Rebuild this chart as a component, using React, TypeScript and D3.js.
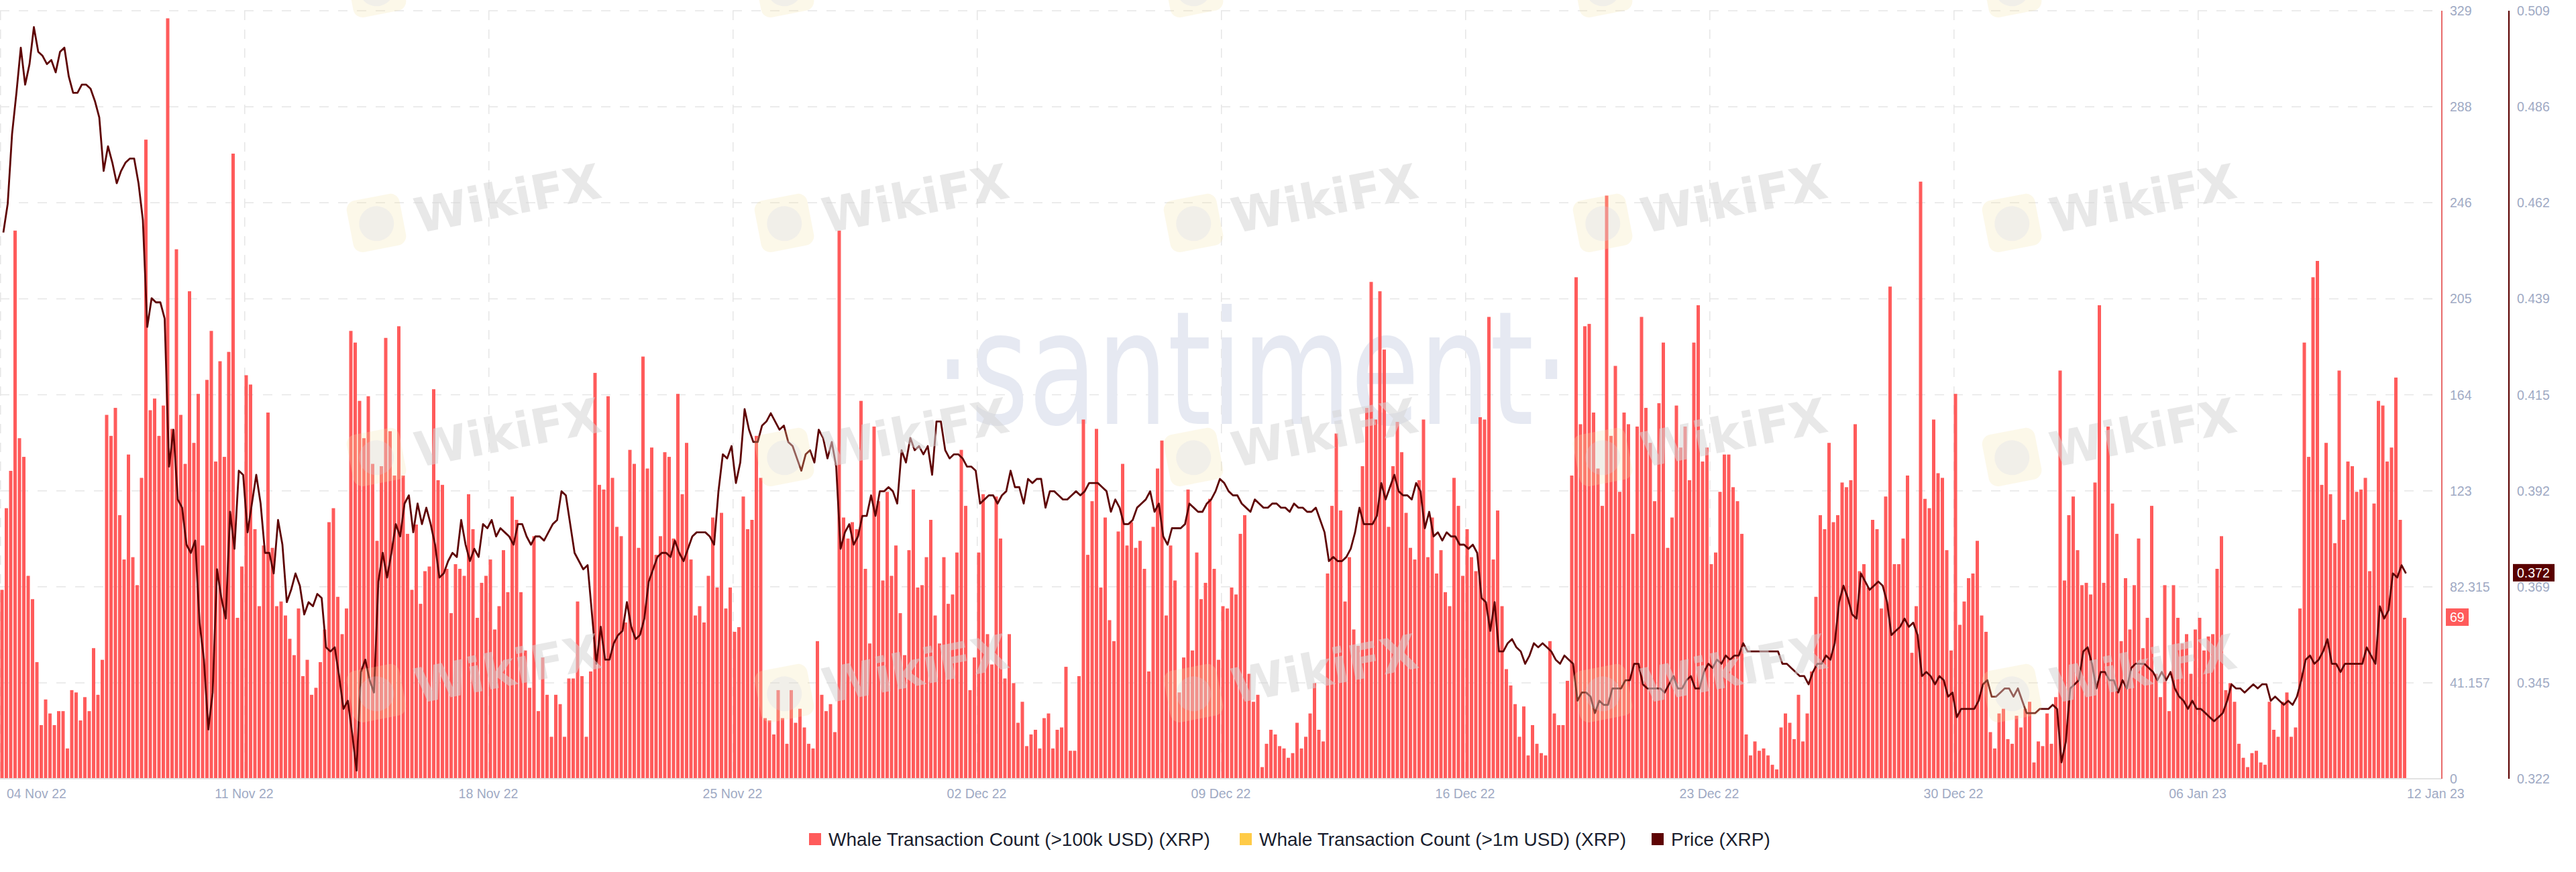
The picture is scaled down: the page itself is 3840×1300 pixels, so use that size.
import React from "react";
import * as d3 from "d3";

// ---------- DATA ----------
// Whale Transaction Count (>100k USD) (XRP), 3-hour buckets from 04 Nov 22 00:00 UTC
const countsNov = [
  81, 116, 132, 235, 146, 138, 87, 77, 50, 23,
  34, 28, 23, 29, 29, 13, 38, 37, 25, 35,
  29, 56, 36, 51, 156, 147, 159, 113, 94, 139,
  95, 83, 129, 274, 158, 163, 147, 160, 326, 150,
  227, 156, 135, 209, 144, 165, 100, 171, 192, 136,
  179, 138, 183, 268, 69, 91, 173, 169, 107, 74,
  100, 157, 99, 74, 76, 70, 60, 53, 73, 44,
  51, 36, 39, 50, 64, 110, 116, 78, 62, 73,
  192, 187, 162, 146, 164, 135, 102, 134, 189, 149,
  130, 194, 130, 105, 81, 109, 75, 89, 91, 167,
  128, 126, 90, 71, 92, 90, 87, 122, 107, 69,
  84, 87, 94, 64, 74, 98, 80, 121, 111, 80,
  55, 39, 104, 29, 52, 36, 18, 36, 32, 18,
  43, 43, 76, 44, 18, 46, 174, 126, 124,
];
const countsLateNov = [
  164, 129, 108, 104, 67, 141, 135, 99, 181, 133,
  142, 96, 104, 140, 138, 103, 165, 122, 144, 94,
  70, 74, 67, 87, 112, 82, 114, 73, 82, 63,
  65, 121, 107, 111, 147, 129, 26, 25, 19, 38,
  26, 15, 38, 24, 30, 22, 15, 13, 59, 36,
  29, 32, 20, 235, 112, 103, 110, 107, 162, 90,
  58, 151, 119, 85, 123, 87, 100, 71, 53, 98,
  124, 82, 83, 95, 111, 70, 58, 95, 75, 79,
  97, 141, 117, 38, 52, 97, 122, 62, 49, 121,
  103, 43, 62, 41, 24, 33, 14, 19, 21, 13,
  26, 28, 13, 21, 22, 48, 12, 12, 44, 154,
  96, 119, 150, 82, 112, 68, 59, 106, 135, 100,
  110, 99, 102, 90, 46, 108, 133, 145, 70, 100,
  85, 37, 52, 124, 55, 97, 77, 84,
];
const countsDec = [
  120, 90, 51, 74, 73, 82, 79, 105, 113, 45,
  33, 36, 5, 15, 21, 19, 14, 13, 9, 11,
  24, 13, 18, 28, 41, 21, 16, 88, 117, 148,
  115, 76, 95, 64, 57, 134, 159, 213, 154, 209,
  184, 108, 134, 153, 140, 114, 99, 94, 128, 154,
  95, 112, 88, 98, 80, 74, 129, 117, 87, 107,
  95, 89, 155, 154, 198, 94, 115, 74, 47, 40,
  32, 18, 31, 10, 23, 15, 11, 10, 59, 28,
  23, 23, 42, 130, 215, 152, 194, 195, 157, 133,
  117, 250, 147, 177, 123, 157, 152, 105, 151, 198,
  159, 144, 119, 161, 187, 99, 112, 160, 142, 151,
  128, 187, 203, 136, 142, 92, 97, 123, 139, 139,
  125, 119, 105, 19, 10, 16, 12, 13, 10, 6,
  4, 22, 28, 24, 17, 36, 16, 28, 46,
];
const countsJan = [
  78, 113, 107, 144, 110, 113, 127, 125, 128, 152,
  89, 92, 82, 111, 107, 73, 121, 211, 92, 92,
  103, 130, 54, 74, 256, 120, 116, 154, 131, 129,
  98, 55, 165, 66, 76, 86, 88, 102, 70, 63,
  20, 13, 28, 30, 17, 15, 27, 22, 30, 33,
  7, 16, 14, 28, 15, 35, 175, 85, 113, 121,
  98, 83, 84, 79, 127, 203, 84, 151, 118, 105,
  59, 86, 64, 83, 103, 56, 69, 117, 45, 35,
  83, 29, 83, 69, 58, 62, 45, 64, 69, 55,
  61, 62, 90, 104, 38, 41, 33, 15, 9, 5,
  11, 12, 7, 6, 33, 21, 18, 33, 37, 18,
  22, 73, 187, 138, 215, 222, 126, 144, 122, 101,
  175, 111, 136, 134, 123, 124, 129, 89, 118, 162,
  160, 136, 142, 172, 111, 69,
];

// Price (XRP), same buckets
const priceNov = [
  0.455, 0.462, 0.479, 0.489, 0.500, 0.491, 0.496, 0.505, 0.499, 0.498,
  0.496, 0.497, 0.494, 0.499, 0.500, 0.493, 0.489, 0.489, 0.491, 0.491,
  0.490, 0.487, 0.483, 0.470, 0.476, 0.472, 0.467, 0.470, 0.472, 0.473,
  0.473, 0.467, 0.458, 0.432, 0.439, 0.438, 0.438, 0.434, 0.398, 0.407,
  0.390, 0.388, 0.379, 0.377, 0.380, 0.360, 0.351, 0.334, 0.343, 0.373,
  0.366, 0.361, 0.387, 0.378, 0.397, 0.396, 0.382, 0.389, 0.396, 0.389,
  0.377, 0.377, 0.372, 0.385, 0.379, 0.365, 0.368, 0.372, 0.369, 0.362,
  0.365, 0.364, 0.367, 0.366, 0.354, 0.353, 0.354, 0.347, 0.339, 0.341,
  0.333, 0.324, 0.348, 0.351, 0.346, 0.343, 0.370, 0.377, 0.371, 0.377,
  0.384, 0.381, 0.389, 0.391, 0.382, 0.389, 0.384, 0.388, 0.384, 0.379,
  0.371, 0.372, 0.375, 0.377, 0.376, 0.385, 0.379, 0.375, 0.378, 0.376,
  0.384, 0.383, 0.385, 0.381, 0.383, 0.382, 0.381, 0.379, 0.384, 0.384,
  0.381, 0.379, 0.381, 0.381, 0.380, 0.382, 0.384, 0.385, 0.392, 0.391,
  0.384, 0.377, 0.375, 0.373, 0.374, 0.362, 0.350, 0.359, 0.351,
];
const priceLateNov = [
  0.351, 0.355, 0.357, 0.358, 0.365, 0.359, 0.356, 0.357, 0.361, 0.370,
  0.373, 0.376, 0.377, 0.377, 0.376, 0.380, 0.377, 0.375, 0.378, 0.381,
  0.382, 0.382, 0.382, 0.381, 0.379, 0.392, 0.401, 0.400, 0.403, 0.394,
  0.399, 0.412, 0.407, 0.404, 0.404, 0.408, 0.409, 0.411, 0.409, 0.407,
  0.408, 0.404, 0.403, 0.400, 0.397, 0.401, 0.402, 0.399, 0.407, 0.405,
  0.400, 0.404, 0.398, 0.378, 0.382, 0.384, 0.379, 0.381, 0.386, 0.386,
  0.391, 0.386, 0.392, 0.392, 0.393, 0.392, 0.389, 0.402, 0.399, 0.405,
  0.402, 0.403, 0.401, 0.403, 0.396, 0.409, 0.409, 0.402, 0.400, 0.401,
  0.401, 0.400, 0.398, 0.398, 0.397, 0.389, 0.390, 0.391, 0.391, 0.389,
  0.391, 0.392, 0.397, 0.393, 0.393, 0.389, 0.395, 0.394, 0.395, 0.395,
  0.388, 0.392, 0.392, 0.391, 0.390, 0.390, 0.391, 0.392, 0.391, 0.392,
  0.394, 0.394, 0.394, 0.393, 0.392, 0.387, 0.390, 0.388, 0.384, 0.384,
  0.385, 0.388, 0.389, 0.390, 0.392, 0.387, 0.389, 0.381, 0.379, 0.383,
  0.383, 0.383, 0.384, 0.389, 0.388, 0.387, 0.387, 0.389,
];
const priceDec = [
  0.390, 0.392, 0.395, 0.394, 0.392, 0.391, 0.391, 0.389, 0.388, 0.387,
  0.390, 0.389, 0.388, 0.388, 0.389, 0.389, 0.388, 0.388, 0.387, 0.389,
  0.388, 0.388, 0.387, 0.387, 0.388, 0.385, 0.382, 0.375, 0.376, 0.375,
  0.375, 0.376, 0.378, 0.382, 0.388, 0.384, 0.384, 0.384, 0.386, 0.394,
  0.390, 0.393, 0.396, 0.392, 0.391, 0.391, 0.390, 0.394, 0.392, 0.383,
  0.387, 0.381, 0.382, 0.380, 0.382, 0.381, 0.381, 0.379, 0.379, 0.378,
  0.379, 0.377, 0.366, 0.365, 0.358, 0.365, 0.353, 0.353, 0.355, 0.356,
  0.354, 0.353, 0.350, 0.352, 0.355, 0.354, 0.355, 0.354, 0.353, 0.351,
  0.350, 0.352, 0.351, 0.350, 0.341, 0.343, 0.343, 0.342, 0.338, 0.341,
  0.340, 0.340, 0.344, 0.344, 0.344, 0.346, 0.346, 0.350, 0.350, 0.345,
  0.344, 0.344, 0.344, 0.344, 0.343, 0.345, 0.347, 0.344, 0.344, 0.346,
  0.347, 0.344, 0.344, 0.348, 0.350, 0.349, 0.351, 0.350, 0.352, 0.351,
  0.352, 0.352, 0.355, 0.353, 0.353, 0.353, 0.353, 0.353, 0.353, 0.353,
  0.353, 0.350, 0.350, 0.349, 0.348, 0.347, 0.347, 0.345, 0.348,
];
const priceJan = [
  0.350, 0.350, 0.352, 0.351, 0.355, 0.365, 0.369, 0.366, 0.362, 0.361,
  0.372, 0.370, 0.368, 0.369, 0.370, 0.369, 0.365, 0.357, 0.358, 0.359,
  0.361, 0.359, 0.360, 0.357, 0.347, 0.348, 0.347, 0.345, 0.347, 0.346,
  0.342, 0.343, 0.337, 0.339, 0.339, 0.339, 0.339, 0.341, 0.345, 0.346,
  0.342, 0.342, 0.343, 0.344, 0.344, 0.342, 0.344, 0.341, 0.338, 0.338,
  0.338, 0.339, 0.339, 0.339, 0.340, 0.339, 0.326, 0.331, 0.344, 0.345,
  0.346, 0.353, 0.354, 0.350, 0.344, 0.348, 0.348, 0.346, 0.346, 0.343,
  0.346, 0.344, 0.349, 0.350, 0.350, 0.350, 0.349, 0.348, 0.346, 0.348,
  0.346, 0.348, 0.344, 0.342, 0.341, 0.339, 0.341, 0.339, 0.339, 0.338,
  0.337, 0.336, 0.337, 0.338, 0.341, 0.345, 0.344, 0.344, 0.343, 0.344,
  0.345, 0.344, 0.345, 0.345, 0.341, 0.342, 0.341, 0.340, 0.341, 0.340,
  0.342, 0.346, 0.351, 0.352, 0.350, 0.351, 0.353, 0.356, 0.350, 0.350,
  0.348, 0.350, 0.350, 0.350, 0.350, 0.350, 0.354, 0.352, 0.350, 0.364,
  0.361, 0.363, 0.372, 0.371, 0.374, 0.372,
];

const countTickLabels = ["0", "41.157", "82.315", "123", "164", "205", "246", "288", "329"];
const priceTickLabels = ["0.322", "0.345", "0.369", "0.392", "0.415", "0.439", "0.462", "0.486", "0.509"];
const countDomain = [0, 329.26];
const priceDomain = [0.322, 0.509];
const weekTickDates = ["2022-11-04", "2022-11-11", "2022-11-18", "2022-11-25", "2022-12-02", "2022-12-09", "2022-12-16", "2022-12-23", "2022-12-30", "2023-01-06"];
const lastTickDate = "2023-01-12";
const legendLabels = ["Whale Transaction Count (>100k USD) (XRP)", "Whale Transaction Count (>1m USD) (XRP)", "Price (XRP)"];
const lastCountLabel = "69";
const lastPriceLabel = "0.372";
const watermarkText = "WikiFX";

const counts = [...countsNov, ...countsLateNov, ...countsDec, ...countsJan];
const prices = [...priceNov, ...priceLateNov, ...priceDec, ...priceJan];

// ---------- STYLE ----------
const W = 3840;
const H = 1300;
const FONT = "'Liberation Sans', Arial, Helvetica, sans-serif";
const AXIS_TEXT = "#9faac4";
const BAR = "#ff5b5b";
const PRICE = "#5e0404";
const GRID = "#e6e6e6";
const LEGEND_COLORS = [BAR, "#ffcb47", PRICE];

export default function App() {
  const top = 16;
  const bottom = 1161;
  const axisCountX = 3640;
  const axisPriceX = 3740;

  const start = new Date(Date.UTC(2022, 10, 4, 0, 0));
  const end = d3.utcHour.offset(start, counts.length * 3);
  const x = d3.scaleUtc().domain([start, end]).range([0, 3588]);
  const yC = d3.scaleLinear().domain(countDomain).range([bottom, top]);
  const yP = d3.scaleLinear().domain(priceDomain).range([bottom, top]);
  const dates = counts.map((_, i) => d3.utcHour.offset(start, i * 3));
  const barW = 5;

  const countTicks = countTickLabels.map((_, i) => countDomain[0] + ((countDomain[1] - countDomain[0]) * i) / 8);
  const priceTicks = priceTickLabels.map((_, i) => priceDomain[0] + ((priceDomain[1] - priceDomain[0]) * i) / 8);

  const line = d3
    .line<number>()
    .x((_, i) => x(dates[i]) + 5)
    .y((d) => yP(d))
    .curve(d3.curveLinear);

  const fmt = d3.utcFormat("%d %b %y");
  const parse = d3.utcParse("%Y-%m-%d");
  const weekDates = weekTickDates.map((s) => parse(s) as Date);
  const lastDate = parse(lastTickDate) as Date;

  const wmCols = [522, 1130, 1740, 2350, 2960];
  const wmRows = [-9, 341, 690, 1042];

  const legendX = [1206, 1848, 2462];

  return (
    <svg
      width={W}
      height={H}
      viewBox={`0 0 ${W} ${H}`}
      style={{ position: "absolute", left: 0, top: 0, display: "block", background: "#fff" }}
      fontFamily={FONT}
    >
      <rect x={0} y={0} width={W} height={H} fill="#fff" />

      {/* grid: horizontal */}
      {countTicks.slice(1).map((t, i) => (
        <line key={"hg" + i} x1={0} x2={3626} y1={yC(t)} y2={yC(t)} stroke={GRID} strokeWidth={1.5} strokeDasharray="14 14" />
      ))}
      {/* grid: vertical */}
      {weekDates.map((d, i) => (
        <line key={"vg" + i} x1={x(d) + 0.75} x2={x(d) + 0.75} y1={top} y2={bottom} stroke={GRID} strokeWidth={1.5} strokeDasharray="14 14" />
      ))}

      {/* santiment watermark */}
      <text x={1394} y={632} fontSize={236} fill="#e6e9f2" textLength={945} lengthAdjust="spacingAndGlyphs" fontFamily="'DejaVu Sans', sans-serif">
        ·santiment·
      </text>

      {/* bars */}
      <g>
        {counts.map((c, i) => (
          <rect key={"b" + i} x={x(dates[i]) + 0.5} y={yC(c)} width={barW} height={bottom - yC(c)} fill={BAR} />
        ))}
      </g>

      {/* baseline */}
      <line x1={0} x2={axisCountX} y1={bottom} y2={bottom} stroke="#e3e3e3" strokeWidth={2} />

      {/* price line */}
      <path d={line(prices) || ""} fill="none" stroke={PRICE} strokeWidth={2.8} strokeLinejoin="round" />

      {/* WikiFX watermarks (top row is cut by the picture edge, so only its logos show) */}
      {wmRows.map((ry, ri) =>
        wmCols.map((cx, ci) => (
          <g key={"wm" + ri + "-" + ci} transform={`translate(${cx},${ry}) rotate(-11)`} opacity={0.55}>
            <rect x={0} y={-40} width={80} height={78} rx={14} fill="#f7e4a8" opacity={0.45} />
            <circle cx={40} cy={0} r={26} fill="#d8d8d8" opacity={0.6} />
            {ri > 0 && (
              <text x={98} y={26} fontSize={72} fontWeight={700} fill="#d6d6d6" fontFamily="'DejaVu Sans', sans-serif">
                {watermarkText}
              </text>
            )}
          </g>
        ))
      )}

      {/* axes lines */}
      <line x1={axisCountX} x2={axisCountX} y1={top} y2={bottom} stroke="#e86a6a" strokeWidth={2} />
      <line x1={axisPriceX} x2={axisPriceX} y1={top} y2={bottom} stroke={PRICE} strokeWidth={2.2} />

      {/* tick stubs */}
      {countTicks.slice(1).map((t, i) => (
        <line key={"st" + i} x1={3612} x2={3626} y1={yC(t)} y2={yC(t)} stroke={GRID} strokeWidth={1.5} />
      ))}

      {/* count axis labels */}
      {countTicks.map((t, i) => (
        <text key={"cl" + i} x={3652} y={yC(t)} dy="0.36em" fontSize={19.5} fill={AXIS_TEXT}>
          {countTickLabels[i]}
        </text>
      ))}
      {/* price axis labels */}
      {priceTicks.map((t, i) => (
        <text key={"pl" + i} x={3752} y={yP(t)} dy="0.36em" fontSize={19.5} fill={AXIS_TEXT}>
          {priceTickLabels[i]}
        </text>
      ))}

      {/* last value badges */}
      <rect x={3646} y={yC(counts[counts.length - 1]) - 14} width={34} height={26} fill={BAR} />
      <text x={3652} y={yC(counts[counts.length - 1]) - 1} dy="0.36em" fontSize={19.5} fill="#fff">
        {lastCountLabel}
      </text>
      <rect x={3746} y={yP(prices[prices.length - 1]) - 14} width={62} height={26} fill="#5a0000" />
      <text x={3752} y={yP(prices[prices.length - 1]) - 1} dy="0.36em" fontSize={19.5} fill="#fff">
        {lastPriceLabel}
      </text>

      {/* x axis labels */}
      {weekDates.map((d, i) => (
        <text
          key={"xl" + i}
          x={i === 0 ? 10 : x(d)}
          y={1190}
          fontSize={19.5}
          fill={AXIS_TEXT}
          textAnchor={i === 0 ? "start" : "middle"}
        >
          {fmt(d)}
        </text>
      ))}
      <text x={x(lastDate)} y={1190} fontSize={19.5} fill={AXIS_TEXT} textAnchor="start">
        {fmt(lastDate)}
      </text>

      {/* legend */}
      {legendLabels.map((l, i) => (
        <g key={"lg" + i}>
          <rect x={legendX[i]} y={1242} width={18} height={18} fill={LEGEND_COLORS[i]} />
          <text x={legendX[i] + 29} y={1261} fontSize={28} fill="#1a1e2e">
            {l}
          </text>
        </g>
      ))}
    </svg>
  );
}
